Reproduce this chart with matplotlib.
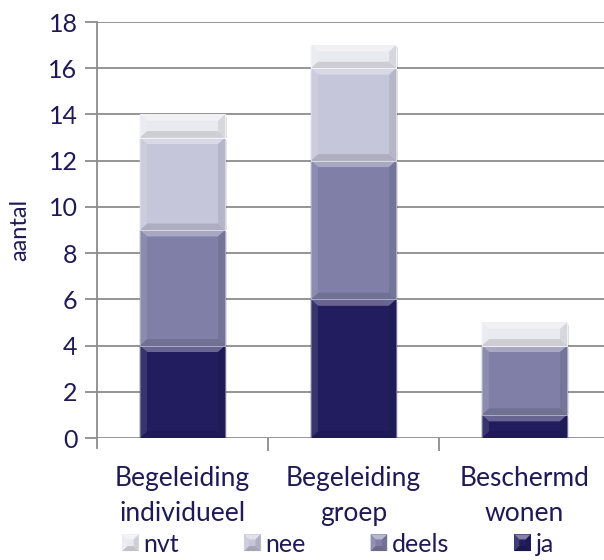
import numpy as np
import matplotlib.pyplot as plt
from matplotlib.patches import Polygon, Rectangle
from matplotlib.legend_handler import HandlerBase
from matplotlib.colors import to_rgb

# data
categories = ['Begeleiding\nindividueel', 'Begeleiding\ngroep', 'Beschermd\nwonen']
ja = [4, 6, 1]
deels = [5, 6, 3]
nee = [4, 4, 0]
nvt = [1, 1, 1]

series = [('ja', ja, '#221d5e'), ('deels', deels, '#7f7fa7'),
          ('nee', nee, '#c6c6da'), ('nvt', nvt, '#e9e9f0')]

text_col = '#1f1a55'
grid_col = '#8c8c8c'
plt.rcParams['font.family'] = ['Lato', 'DejaVu Sans']


def shade(c, f):
    r, g, b = to_rgb(c)
    if f > 0:
        return (r + (1 - r) * f, g + (1 - g) * f, b + (1 - b) * f)
    return (r * (1 + f), g * (1 + f), b * (1 + f))


def faces(x0, y0, x1, y1, dx, dy, k):
    return [
        ([(x0, y1), (x1, y1), (x1 - dx, y1 - dy), (x0 + dx, y1 - dy)], 0.32 * k),
        ([(x0, y0), (x1, y0), (x1 - dx, y0 + dy), (x0 + dx, y0 + dy)], -0.12 * k),
        ([(x0, y0), (x0, y1), (x0 + dx, y1 - dy), (x0 + dx, y0 + dy)], 0.1 * k),
        ([(x1, y0), (x1, y1), (x1 - dx, y1 - dy), (x1 - dx, y0 + dy)], -0.08 * k),
    ]


def bevel(ax, x0, y0, w, h, color, dx, dy, z=3):
    x1, y1 = x0 + w, y0 + h
    dy = min(dy, h / 3)
    # soft shadow on the right
    ax.add_patch(Rectangle((x1, y0), 0.012, h - 0.1, facecolor='#000000', alpha=0.12,
                           edgecolor='none', zorder=z - 0.1))
    ax.add_patch(Rectangle((x0, y0), w, h, facecolor=color, edgecolor='none', zorder=z))
    for pts, f in faces(x0, y0, x1, y1, dx, dy, 1):
        ax.add_patch(Polygon(pts, closed=True, facecolor=shade(color, f),
                             edgecolor='none', zorder=z + 0.1))
    ax.add_patch(Rectangle((x0, y0), w, h, facecolor='none',
                           edgecolor=shade(color, 0.35), linewidth=0.7, zorder=z + 0.2))


class BevelHandler(HandlerBase):
    def create_artists(self, legend, orig, xd, yd, width, height, fontsize, trans):
        color = orig.get_facecolor()
        s = min(width, height) * 0.95
        x0 = xd + width - s
        y0 = yd + (height - s) / 2
        arts = [Rectangle((x0, y0), s, s, facecolor=color, edgecolor='none', transform=trans)]
        d = s * 0.3
        for pts, f in faces(x0, y0, x0 + s, y0 + s, d, d, 1.4):
            arts.append(Polygon(pts, closed=True, facecolor=shade(color, f),
                                edgecolor='none', transform=trans))
        return arts


fig = plt.figure(figsize=(6.04, 5.6), dpi=100)
ax = fig.add_axes([97 / 604, 1 - 438 / 560, 513 / 604, 416 / 560])

x = np.arange(len(categories))
bw = 0.5
bottom = np.zeros(len(categories))
handles = []
for name, vals, color in series:
    for i, v in enumerate(vals):
        if v > 0:
            bevel(ax, x[i] - bw / 2, bottom[i], bw, v, color, 0.042, 0.28)
    bottom += np.array(vals)
    handles.append(Rectangle((0, 0), 1, 1, facecolor=color, label=name))

ax.set_xlim(-0.5, 2.5)
ax.set_ylim(0, 18)
ax.set_yticks(range(0, 19, 2))
ax.yaxis.grid(True, color=grid_col, linewidth=1.3)
ax.set_axisbelow(True)
for s in ['top', 'right', 'bottom']:
    ax.spines[s].set_visible(False)
ax.spines['left'].set_color(grid_col)
ax.spines['left'].set_linewidth(1.3)
ax.spines['left'].set_bounds(-0.45, 18)

ax.set_xticks(x)
ax.set_xticklabels(categories, fontsize=19, color=text_col, linespacing=1.5)
ax.tick_params(axis='x', length=0, pad=20)
ax.set_xticks([0.5, 1.5], minor=True)
ax.tick_params(axis='x', which='minor', length=9, width=1.3, color=grid_col)
ax.tick_params(axis='y', length=9, width=1.3, color=grid_col, labelsize=18,
               labelcolor=text_col, pad=5)
ax.set_ylabel('aantal', fontsize=17, color=text_col, labelpad=13)

fig.legend(handles=handles[::-1], loc='center', bbox_to_anchor=(337 / 604, 1 - 544 / 560),
           ncol=4, frameon=False, fontsize=18, labelcolor=text_col,
           handler_map={Rectangle: BevelHandler()}, handlelength=0.75,
           handletextpad=0.2, columnspacing=2.5)

fig.savefig('out.png', dpi=100)
